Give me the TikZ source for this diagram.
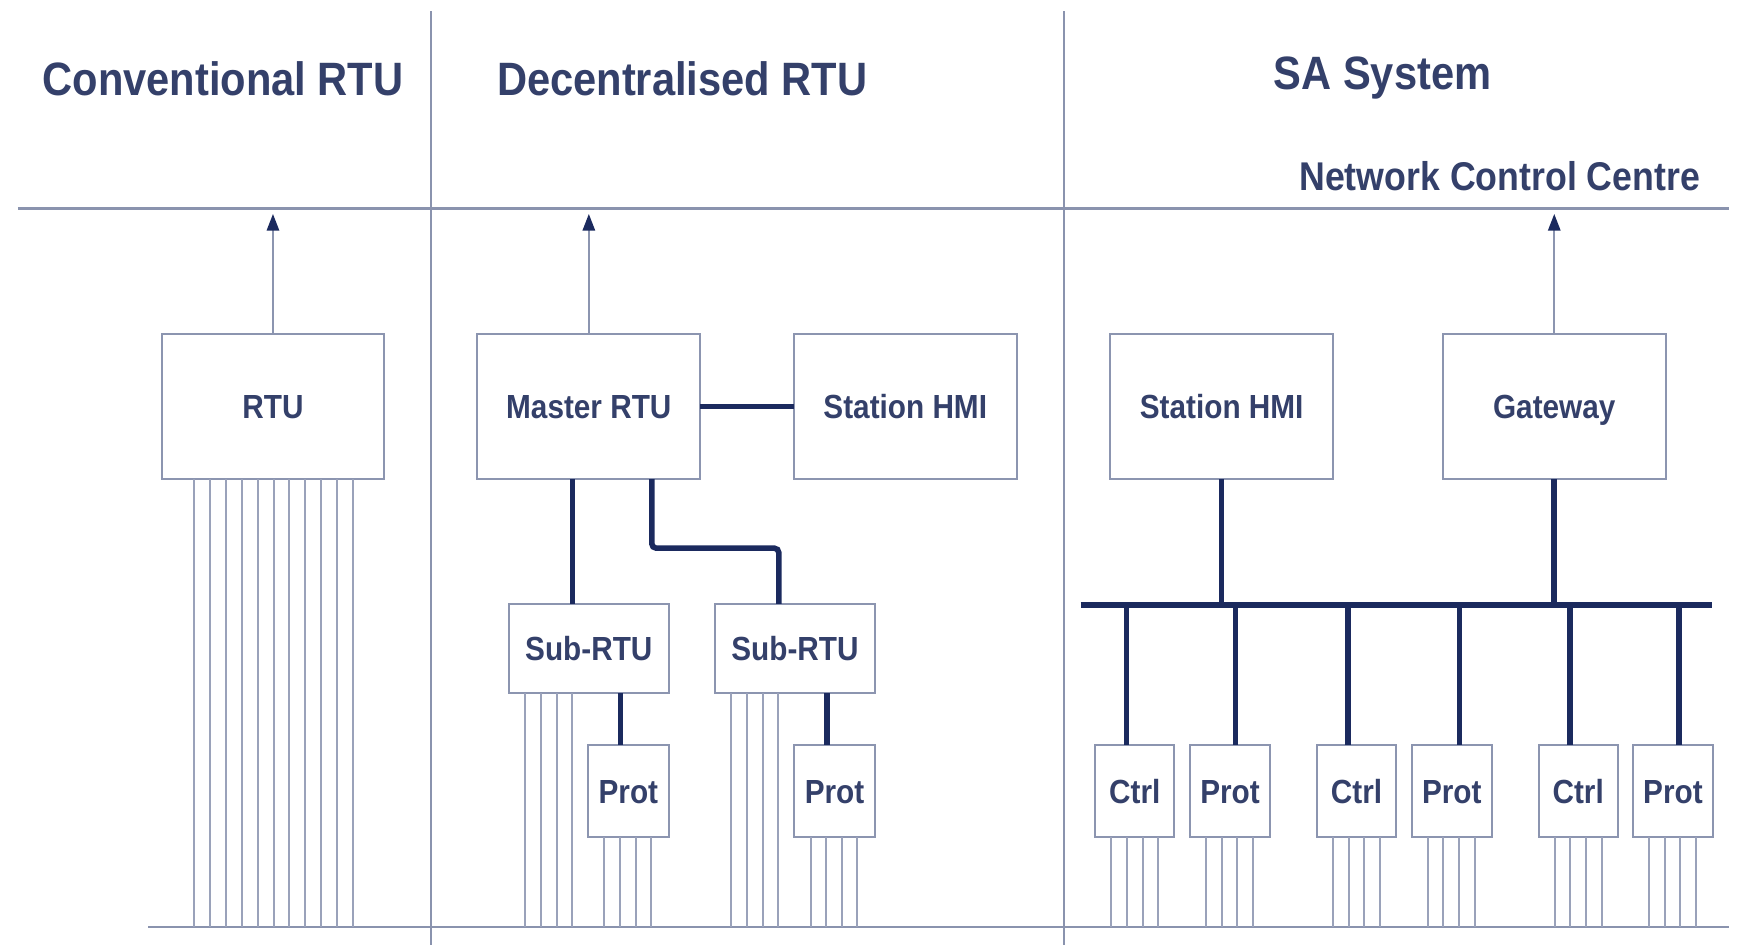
\documentclass[tikz,border=0pt]{standalone}
\usepackage{fontspec}
\usepackage{graphicx}
\setmainfont{Liberation Sans}
\usetikzlibrary{arrows.meta}
\definecolor{txt}{HTML}{34406A}
\definecolor{navy}{HTML}{1B2A5E}
\definecolor{frame}{HTML}{8C95B0}
\definecolor{wirec}{HTML}{9AA2BA}
\definecolor{rulec}{HTML}{8A93AE}
\newcommand{\condtext}[1]{\scalebox{0.89}[1]{#1}}
\tikzset{
  box/.style={draw=frame, line width=1.8pt, fill=white, inner sep=0pt, outer sep=0pt,
    text=txt, font=\fontsize{30}{33}\selectfont\bfseries, text height=21.5pt, text depth=0pt},
  bigbox/.style={box, minimum width=200pt, minimum height=130pt},
  midbox/.style={box, minimum width=143pt, minimum height=80pt},
  smallbox/.style={box, minimum width=72pt, minimum height=82pt},
  link/.style={draw=navy, line width=5pt},
  wire/.style={draw=wirec, line width=1.8pt},
  rulel/.style={draw=rulec, line width=2.6pt},
  divider/.style={draw=rulec, line width=1.6pt},
  uparrow/.style={draw=frame, line width=2pt, -{Triangle[length=15pt,width=11pt,color=navy]}},
  head/.style={text=txt, font=\fontsize{42}{45}\selectfont\bfseries, inner sep=0pt},
  subhead/.style={text=txt, font=\fontsize{36}{40}\selectfont\bfseries, inner sep=0pt}
}
\begin{document}
\begin{tikzpicture}[x=1pt,y=-1pt]
\useasboundingbox[fill=white] (0,0) rectangle (1568,848);

% reference coordinates
\coordinate (topL) at (16,187);
\coordinate (topR) at (1552,187);
\coordinate (tip) at (0,192);
\coordinate (gndL) at (133,832);
\coordinate (gndR) at (1552,832);
\coordinate (d1t) at (387,10);
\coordinate (d1b) at (387,848);
\coordinate (d2t) at (955,10);
\coordinate (d2b) at (955,848);
\coordinate (busL) at (970,543);
\coordinate (busR) at (1537,543);

% frame lines
\draw[divider] (d1t) -- (d1b);
\draw[divider] (d2t) -- (d2b);
\draw[rulel] (topL) -- (topR);
\draw[rulel] (gndL) -- (gndR);

% headings
\node[head, anchor=base west] (h1) at (38,86) {\condtext{Conventional RTU}};
\node[head, anchor=base west] (h2) at (446,86) {\condtext{Decentralised RTU}};
\node[head, anchor=base west] (h3) at (1143,80) {\condtext{SA System}};
\node[subhead, anchor=base east] (h4) at (1526,171) {\condtext{Network Control Centre}};

% conventional
\node[bigbox] (rtu) at (245,365) {\condtext{RTU}};

% decentralised
\node[bigbox] (master) at (528.5,365) {\condtext{Master RTU}};
\node[bigbox] (hmi1) at (812.5,365) {\condtext{Station HMI}};
\node[midbox] (sub1) at (528.5,582) {\condtext{Sub-RTU}};
\node[midbox] (sub2) at (713.5,582) {\condtext{Sub-RTU}};
\node[smallbox] (prot1) at (564,710) {\condtext{Prot}};
\node[smallbox] (prot2) at (749,710) {\condtext{Prot}};

% SA system
\node[bigbox] (hmi2) at (1096.5,365) {\condtext{Station HMI}};
\node[bigbox] (gw) at (1395,365) {\condtext{Gateway}};
\node[smallbox, minimum width=71pt] (c1) at (1018.5,710) {\condtext{Ctrl}};
\node[smallbox] (p1) at (1104,710) {\condtext{Prot}};
\node[smallbox, minimum width=71pt] (c2) at (1217.5,710) {\condtext{Ctrl}};
\node[smallbox] (p2) at (1303,710) {\condtext{Prot}};
\node[smallbox, minimum width=71pt] (c3) at (1416.5,710) {\condtext{Ctrl}};
\node[smallbox] (p3) at (1501.5,710) {\condtext{Prot}};

% arrows to network control centre
\draw[uparrow] (rtu.north) -- (rtu.north |- tip);
\draw[uparrow] (master.north) -- (master.north |- tip);
\draw[uparrow] (gw.north) -- (gw.north |- tip);

% decentralised links
\draw[link] (master) -- (hmi1);
\coordinate (xa) at (514,0);
\draw[link] (xa |- master.south) -- (xa |- sub1.north);
\coordinate (xb) at (585,0);
\coordinate (xc) at (699,0);
\draw[link, rounded corners=4pt] (xb |- master.south) -- (xb |- 0,492) -- (xc |- 0,492) -- (xc |- sub2.north);
\coordinate (xd) at (557,0);
\draw[link] (xd |- sub1.south) -- (xd |- prot1.north);
\coordinate (xe) at (742,0);
\draw[link] (xe |- sub2.south) -- (xe |- prot2.north);

% SA bus
\draw[link] (busL) -- (busR);
\draw[link] (hmi2.south) -- (hmi2.south |- busL);
\draw[link] (gw.south) -- (gw.south |- busL);
\foreach \n/\x in {c1/1011, p1/1109, c2/1210, p2/1310, c3/1409, p3/1507}{
  \coordinate (dx) at (\x,0);
  \draw[link] (dx |- busL) -- (dx |- \n.north);
}

% process wires
\foreach \k in {0,...,10}{
  \path ([xshift={29pt+\k*14.3pt}]rtu.south west) coordinate (w);
  \draw[wire] (w) -- (w |- gndL);
}
\foreach \n in {sub1, sub2, prot1, prot2, c1, p1, c2, p2, c3, p3}{
  \foreach \k in {0,...,3}{
    \path ([xshift={14.5pt+\k*14pt}]\n.south west) coordinate (w);
    \draw[wire] (w) -- (w |- gndL);
  }
}
\end{tikzpicture}
\end{document}
